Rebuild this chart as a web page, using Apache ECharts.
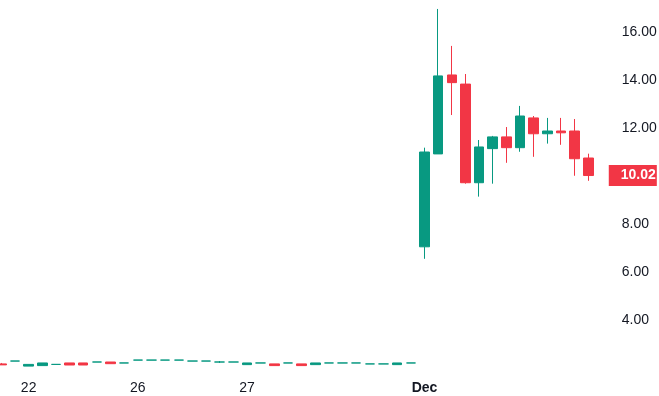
<!DOCTYPE html>
<html>
<head>
<meta charset="utf-8">
<script src="https://cdn.jsdelivr.net/npm/echarts@6/dist/echarts.min.js"></script>
<style>
html,body{margin:0;padding:0;background:#fff;}
#chart{width:659px;height:396px;}
</style>
</head>
<body>
<div id="chart"></div>
<script>
// Candle values (open, close, low, high)
const openVals  = [2.17,2.29,2.08,2.10,2.15,2.21,2.21,2.25,2.25,2.21,2.33,2.33,2.33,2.33,2.29,2.29,2.25,2.25,2.14,2.21,2.17,2.21,2.17,2.14,2.21,2.21,2.21,2.17,2.17,2.14,2.21,
                   7.05,10.92,14.21,13.83,9.72,11.14,11.63,11.18,12.42,11.76,11.875,11.875,10.75];
const closeVals = [2.13,2.29,2.15,2.21,2.15,2.125,2.125,2.25,2.18,2.21,2.33,2.33,2.33,2.33,2.29,2.29,2.25,2.25,2.21,2.21,2.10,2.21,2.10,2.21,2.21,2.21,2.21,2.17,2.17,2.21,2.21,
                   11.0,14.17,13.89,9.72,11.21,11.63,11.18,12.5,11.76,11.875,11.80,10.72,10.02];
const lowVals   = [2.13,2.29,2.08,2.10,2.15,2.125,2.125,2.25,2.18,2.21,2.33,2.33,2.33,2.33,2.29,2.29,2.21,2.25,2.14,2.21,2.10,2.21,2.10,2.14,2.21,2.21,2.21,2.17,2.17,2.14,2.21,
                   6.55,10.92,12.54,9.68,9.14,9.68,10.55,11.01,10.8,11.35,11.30,10.01,9.80];
const highVals  = [2.21,2.29,2.15,2.21,2.15,2.21,2.21,2.25,2.25,2.21,2.33,2.33,2.33,2.33,2.29,2.29,2.29,2.25,2.21,2.21,2.17,2.21,2.17,2.21,2.21,2.21,2.21,2.17,2.17,2.21,2.21,
                   11.18,16.96,15.42,14.25,11.5,11.67,12.04,12.92,12.5,12.42,12.42,12.375,10.93];
const slotCount = 45; // candles plus empty right margin slot
const tickSlots = [2, 10, 18, 31];
const tickTexts = ['22', '26', '27', 'Dec'];
const yTicks = [4, 6, 8, 12, 14, 16]; // 10.00 is covered by the last-price tag
const lastPrice = 10.02;

const categories = [];
for (let i = 0; i < slotCount; i++) categories.push('s' + i);
const candles = openVals.map((o, i) => [o, closeVals[i], lowVals[i], highVals[i]]);

const UP = '#089981', DOWN = '#F23645', TXT = '#131722';
const FONT = 'Liberation Sans';

const chart = echarts.init(document.getElementById('chart'), null, {renderer: 'canvas'});
chart.setOption({
  animation: false,
  backgroundColor: '#ffffff',
  grid: {left: -5.475, right: 50.225, top: 0, bottom: -20, containLabel: false, outerBoundsMode: 'none'},
  xAxis: {
    type: 'category',
    data: categories,
    boundaryGap: true,
    axisLine: {show: false},
    axisTick: {show: false},
    splitLine: {show: false},
    axisLabel: {
      interval: 0,
      margin: -35,
      fontFamily: FONT,
      fontSize: 14,
      color: TXT,
      formatter: (v, idx) => {
        const k = tickSlots.indexOf(idx);
        if (k < 0) return '';
        return tickTexts[k] === 'Dec' ? '{b|Dec}' : tickTexts[k];
      },
      rich: {b: {fontFamily: FONT, fontSize: 14, fontWeight: 'bold', color: TXT}}
    }
  },
  yAxis: {
    type: 'value',
    position: 'right',
    min: 0,
    max: 416 / 24,
    interval: 2,
    scale: false,
    axisLine: {show: false},
    axisTick: {show: false},
    splitLine: {show: false},
    axisLabel: {
      margin: 13,
      fontFamily: FONT,
      fontSize: 14,
      color: TXT,
      showMaxLabel: false,
      formatter: v => (yTicks.some(t => Math.abs(t - v) < 1e-6) ? v.toFixed(2) : '')
    }
  },
  series: [{
    type: 'candlestick',
    data: candles,
    barWidth: 10,
    clip: true,
    itemStyle: {
      color: UP, color0: DOWN,
      borderColor: UP, borderColor0: DOWN,
      borderColorDoji: UP,
      borderWidth: 1
    },
    markLine: {
      silent: true,
      z: 10,
      symbol: ['none', 'none'],
      lineStyle: {color: 'rgba(0,0,0,0)', width: 1, type: 'solid'},
      label: {
        show: true,
        position: 'end',
        distance: 0,
        formatter: () => lastPrice.toFixed(2),
        backgroundColor: DOWN,
        color: '#ffffff',
        fontFamily: FONT,
        fontSize: 14,
        fontWeight: 'bold',
        lineHeight: 15,
        padding: [3, 1, 3, 12]
      },
      emphasis: {disabled: true},
      data: [{yAxis: lastPrice}]
    }
  }]
});
</script>
</body>
</html>
